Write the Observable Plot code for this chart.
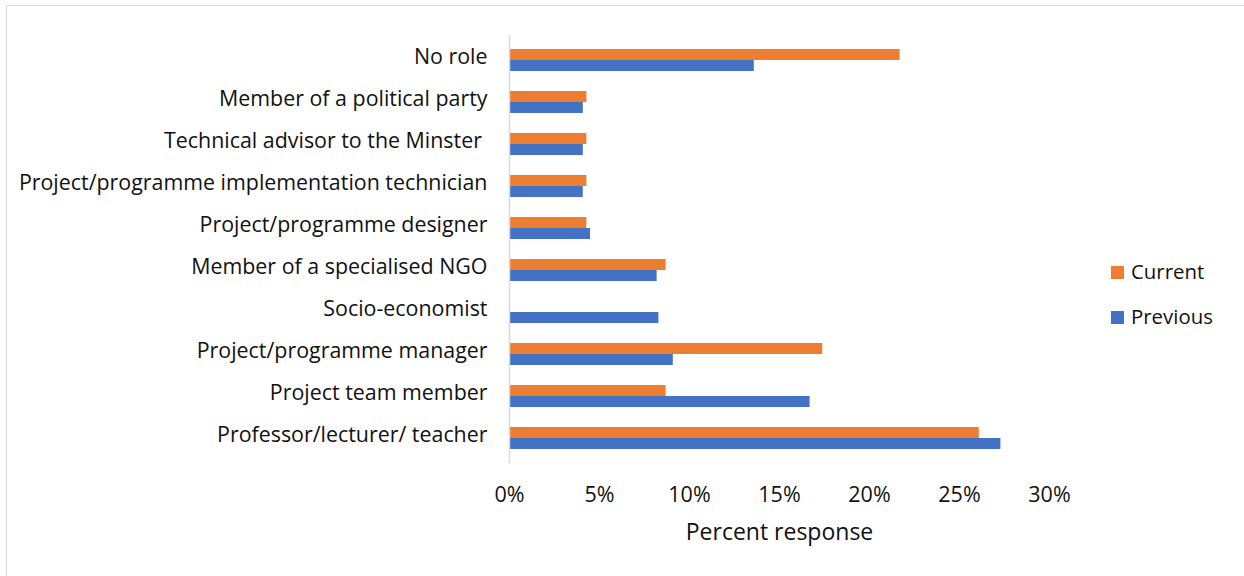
<!DOCTYPE html>
<html>
<head>
<meta charset="utf-8">
<script src="https://cdn.jsdelivr.net/npm/d3@7"></script>
<script src="https://cdn.jsdelivr.net/npm/@observablehq/plot@0.6"></script>
<style>
  html, body { margin: 0; padding: 0; background: #fff; overflow: hidden; }
  #wrap { position: relative; width: 1244px; height: 576px; }
  #frame { position: absolute; left: 6px; top: 5px; width: 1260px; height: 600px; border: 1.5px solid #d9d9d9; box-sizing: border-box; }
  #legend { position: absolute; left: 1111px; top: 258px; font-family: "Open Sans", sans-serif; font-size: 20.4px; color: #111; }
  .item { display: flex; align-items: center; height: 26px; margin-bottom: 19px; }
  .sw { width: 13px; height: 13px; margin-right: 7px; margin-top: 3px; }
</style>
</head>
<body>
<div id="wrap"><div id="frame"></div><div id="chart"></div>
<div id="legend"></div></div>
<script>
const roles = [
  "No role",
  "Member of a political party",
  "Technical advisor to the Minster ",
  "Project/programme implementation technician",
  "Project/programme designer",
  "Member of a specialised NGO",
  "Socio-economist",
  "Project/programme manager",
  "Project team member",
  "Professor/lecturer/ teacher"
];
const current = [21.7, 4.3, 4.3, 4.3, 4.3, 8.7, 0, 17.4, 8.7, 26.1];
const previous = [13.6, 4.1, 4.1, 4.1, 4.5, 8.2, 8.3, 9.1, 16.7, 27.3];
const seriesNames = ["Current", "Previous"];
const seriesColors = ["#ED7D31", "#4472C4"];
const xTicks = [0, 5, 10, 15, 20, 25, 30];

const rowsCurrent = roles.map((r, i) => ({role: r, value: current[i]}));
const rowsPrevious = roles.map((r, i) => ({role: r, value: previous[i]}));

const W = 1244, H = 576, mT = 35, mB = 113, mL = 509, mR = 195;
const pInner = 0.486, pOuter = 0.243;
const step = (H - mT - mB) / (roles.length - pInner + 2 * pOuter);
const half = step * (1 - pInner) / 2;

const chart = Plot.plot({
  width: W, height: H,
  marginTop: mT, marginBottom: mB, marginLeft: mL, marginRight: mR,
  style: {fontFamily: "'Open Sans', sans-serif", fontSize: "21px", color: "#111", background: "transparent"},
  x: {domain: [0, 30]},
  y: {domain: roles, paddingInner: pInner, paddingOuter: pOuter},
  marks: [
    Plot.barX(rowsCurrent, {y: "role", x: "value", fill: seriesColors[0], insetBottom: half}),
    Plot.barX(rowsPrevious, {y: "role", x: "value", fill: seriesColors[1], insetTop: half}),
    Plot.ruleX([0], {stroke: "#d9d9d9", strokeWidth: 1.5}),
    Plot.axisX({ticks: xTicks, tickFormat: d => d + "%", tickSize: 0, tickPadding: 23, label: null, fontSize: 21.5}),
    Plot.axisX({ticks: [], label: "Percent response", labelAnchor: "center", labelOffset: 76, labelArrow: "none", fontSize: 23}),
    Plot.axisY({tickSize: 0, tickPadding: 22, label: null, fontSize: 21.4, dy: -3})
  ]
});
document.getElementById("chart").appendChild(chart);

const legend = document.getElementById("legend");
seriesNames.forEach((n, i) => {
  const d = document.createElement("div");
  d.className = "item";
  d.innerHTML = `<span class="sw" style="background:${seriesColors[i]}"></span><span>${n}</span>`;
  legend.appendChild(d);
});
</script>
</body>
</html>
